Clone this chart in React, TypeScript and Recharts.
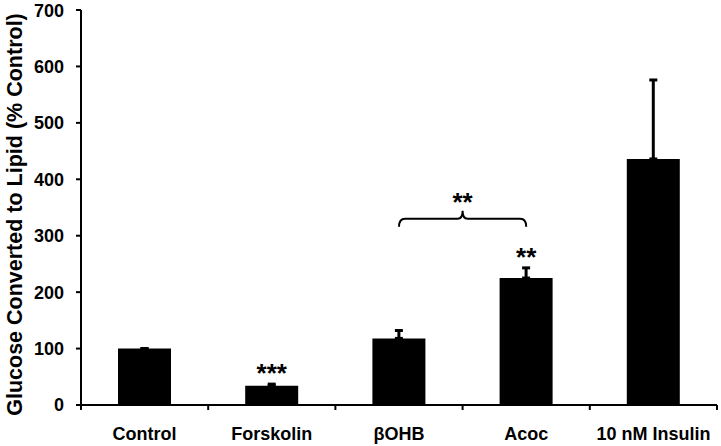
import React from "react";
import { BarChart, Bar, XAxis, YAxis, ErrorBar, ReferenceLine, ReferenceDot } from "recharts";

const categories = ["Control", "Forskolin", "βOHB", "Acoc", "10 nM Insulin"];
const values = [100, 34, 118, 225, 436];
const errors = [0, 3, 14, 18, 140];
const sigLabels = ["", "***", "", "**", ""];
const yTicks = [0, 100, 200, 300, 400, 500, 600, 700];
// bracket comparing βOHB with Acoc
const bracketFrom = "βOHB";
const bracketTo = "Acoc";
const bracketY = 330;
const bracketLabel = "**";

const data = categories.map((c, i) => ({
  name: c,
  value: values[i],
  err: [0, errors[i]],
  top: values[i] + errors[i],
  sig: sigLabels[i],
}));

const FONT = "'Liberation Sans', Arial, sans-serif";
const BLACK = "#000";

function CategoryTick(props: any) {
  const { x, y, payload, width, visibleTicksCount, index } = props;
  const band = width && visibleTicksCount ? width / visibleTicksCount : 127;
  const half = band / 2;
  return (
    <g>
      {index === 0 && (
        <line x1={x - half} y1={y} x2={x - half} y2={y + 5} stroke={BLACK} strokeWidth={2} />
      )}
      <line x1={x + half} y1={y} x2={x + half} y2={y + 5} stroke={BLACK} strokeWidth={2} />
      <text
        x={x}
        y={y}
        dy={35}
        textAnchor="middle"
        fill={BLACK}
        fontSize={18}
        fontWeight="bold"
        fontFamily={FONT}
      >
        {payload.value}
      </text>
    </g>
  );
}

function BracketShape(props: any) {
  const { x1, y1, x2 } = props;
  if (x1 == null || y1 == null || x2 == null) return null;
  const mid = (x1 + x2) / 2;
  const d = `M ${x1} ${y1 + 8} Q ${x1} ${y1} ${x1 + 6} ${y1} L ${mid - 5} ${y1} Q ${mid} ${y1} ${mid} ${y1 - 8} Q ${mid} ${y1} ${mid + 5} ${y1} L ${x2 - 6} ${y1} Q ${x2} ${y1} ${x2} ${y1 + 8}`;
  return <path d={d} fill="none" stroke={BLACK} strokeWidth={2} />;
}

export default function App() {
  return (
    <div style={{ position: "absolute", left: 0, top: 0, background: "#fff" }}>
      <BarChart
        width={721}
        height={446}
        data={data}
        margin={{ top: 10, right: 4, bottom: 0, left: 0 }}
        style={{ fontFamily: FONT }}
      >
        <XAxis
          dataKey="name"
          height={41}
          axisLine={{ stroke: BLACK, strokeWidth: 2 }}
          tickLine={false}
          tickSize={0}
          tickMargin={0}
          tick={<CategoryTick />}
          interval={0}
        />
        <YAxis
          width={81}
          domain={[0, 700]}
          ticks={yTicks}
          axisLine={{ stroke: BLACK, strokeWidth: 2 }}
          tickLine={{ stroke: BLACK, strokeWidth: 2 }}
          tickSize={5}
          tickMargin={12}
          tick={{ fill: BLACK, fontSize: 18, fontWeight: "bold", fontFamily: FONT }}
          label={{
            value: "Glucose Converted to Lipid (% Control)",
            angle: -90,
            position: "center",
            dx: -26,
            dy: 7,
            style: { fill: BLACK, fontSize: 21.5, fontWeight: "bold", fontFamily: FONT, textAnchor: "middle" },
          }}
        />
        <Bar dataKey="value" fill={BLACK} barSize={53} isAnimationActive={false}>
          <ErrorBar
            dataKey="err"
            direction="y"
            width={4}
            strokeWidth={3}
            stroke={BLACK}
            isAnimationActive={false}
          />
        </Bar>
        {data
          .filter((d) => d.sig)
          .map((d) => (
            <ReferenceDot
              key={d.name}
              x={d.name}
              y={d.top}
              r={0}
              fill="none"
              stroke="none"
              label={{
                value: d.sig,
                position: "top",
                offset: 2,
                style: { fill: BLACK, fontSize: 26, fontWeight: "bold", fontFamily: FONT },
              }}
            />
          ))}
        <ReferenceLine
          segment={[{ x: bracketFrom, y: bracketY }, { x: bracketTo, y: bracketY }]}
          stroke={BLACK}
          strokeWidth={2}
          shape={<BracketShape />}
          label={{
            value: bracketLabel,
            position: "top",
            offset: 8,
            style: { fill: BLACK, fontSize: 26, fontWeight: "bold", fontFamily: FONT },
          }}
        />
      </BarChart>
    </div>
  );
}
